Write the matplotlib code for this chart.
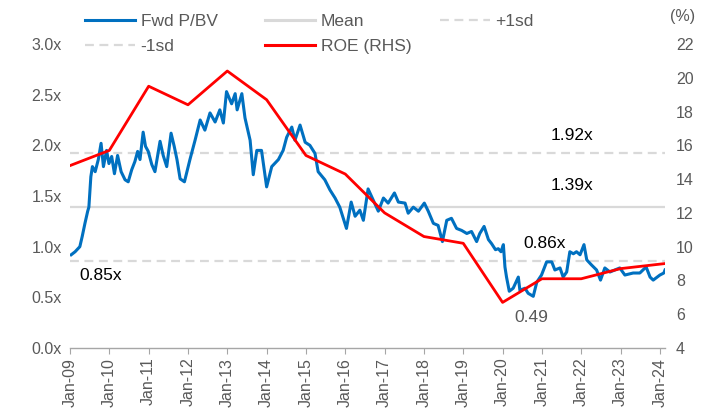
import matplotlib.pyplot as plt
from matplotlib.lines import Line2D
import numpy as np

plt.rcParams.update({
    'font.family': 'Liberation Sans',
    'font.size': 11.5,
    'axes.linewidth': 1.0,
})

### DATA

# Fwd P/BV (decimal year, multiple)
pb_year = [2009.03, 2009.13, 2009.25, 2009.31, 2009.38, 2009.45, 2009.48, 2009.53, 2009.57, 2009.64,
           2009.72, 2009.79, 2009.85, 2009.93, 2009.99, 2010.06, 2010.13, 2010.21, 2010.30, 2010.40,
           2010.48, 2010.57, 2010.65, 2010.72, 2010.78, 2010.86, 2010.92, 2010.99, 2011.08, 2011.16,
           2011.29, 2011.37, 2011.46, 2011.57, 2011.65, 2011.72, 2011.80, 2011.91, 2012.05, 2012.18,
           2012.31, 2012.43, 2012.56, 2012.69, 2012.81, 2012.90, 2012.98, 2013.11, 2013.20, 2013.25,
           2013.37, 2013.45, 2013.58, 2013.66, 2013.75, 2013.87, 2014.00, 2014.13, 2014.30, 2014.42,
           2014.51, 2014.64, 2014.72, 2014.85, 2014.98, 2015.10, 2015.23, 2015.31, 2015.48, 2015.61,
           2015.74, 2015.86, 2016.03, 2016.15, 2016.25, 2016.37, 2016.46, 2016.58, 2016.71, 2016.84,
           2016.97, 2017.09, 2017.25, 2017.35, 2017.52, 2017.60, 2017.73, 2017.86, 2018.01, 2018.11,
           2018.24, 2018.36, 2018.47, 2018.58, 2018.70, 2018.83, 2018.96, 2019.09, 2019.21, 2019.34,
           2019.42, 2019.53, 2019.64, 2019.72, 2019.82, 2019.89, 2019.96, 2020.02, 2020.06, 2020.10,
           2020.17, 2020.27, 2020.40, 2020.44, 2020.57, 2020.65, 2020.78, 2020.87, 2020.99, 2021.12,
           2021.25, 2021.33, 2021.46, 2021.54, 2021.63, 2021.71, 2021.80, 2021.88, 2021.97, 2022.07,
           2022.14, 2022.26, 2022.39, 2022.49, 2022.60, 2022.73, 2022.98, 2023.11, 2023.32, 2023.49,
           2023.65, 2023.75, 2023.83, 2024.00, 2024.10, 2024.13]
pb_val = [0.92, 0.95, 1.00, 1.10, 1.23, 1.35, 1.39, 1.69, 1.79, 1.74,
          1.86, 2.02, 1.79, 1.95, 1.82, 1.89, 1.72, 1.90, 1.74, 1.66,
          1.64, 1.76, 1.84, 1.94, 1.86, 2.13, 1.99, 1.94, 1.81, 1.74,
          2.04, 1.90, 1.79, 2.12, 1.99, 1.86, 1.67, 1.64, 1.86, 2.05,
          2.25, 2.15, 2.32, 2.23, 2.35, 2.22, 2.53, 2.41, 2.51, 2.35,
          2.51, 2.27, 2.05, 1.71, 1.95, 1.95, 1.59, 1.79, 1.86, 1.95,
          2.08, 2.18, 2.05, 2.20, 2.03, 2.00, 1.92, 1.74, 1.66, 1.56,
          1.48, 1.39, 1.18, 1.44, 1.30, 1.36, 1.26, 1.57, 1.46, 1.35,
          1.48, 1.43, 1.53, 1.44, 1.43, 1.33, 1.39, 1.35, 1.43, 1.35,
          1.23, 1.21, 1.05, 1.26, 1.28, 1.18, 1.16, 1.13, 1.15, 1.05,
          1.13, 1.20, 1.07, 1.03, 0.97, 0.98, 0.95, 1.02, 0.80, 0.70,
          0.56, 0.59, 0.70, 0.57, 0.59, 0.54, 0.51, 0.65, 0.72, 0.85,
          0.85, 0.77, 0.79, 0.70, 0.75, 0.95, 0.93, 0.95, 0.92, 1.02,
          0.87, 0.82, 0.77, 0.67, 0.79, 0.75, 0.79, 0.72, 0.74, 0.74,
          0.80, 0.70, 0.67, 0.72, 0.74, 0.77]

# ROE (%), right axis
roe_year = [2009, 2010, 2011, 2012, 2013, 2014, 2015, 2016, 2017, 2018,
            2019, 2020, 2021, 2022, 2023, 2024.13]
roe_val = [14.8, 15.7, 19.5, 18.4, 20.4, 18.7, 15.4, 14.3, 12.0, 10.6,
           10.2, 6.7, 8.1, 8.1, 8.7, 9.0]

mean_pb = 1.39
plus_sd = 1.92
minus_sd = 0.86

years = list(range(2009, 2025))
year_labels = ['Jan-%02d' % (y % 100) for y in years]

### PLOT

blue = '#0070C0'
red = '#FF0000'
grey = '#D9D9D9'
txt = '#595959'

fig = plt.figure(figsize=(7.1, 4.15), dpi=100)
ax = fig.add_axes([70/710, 1-348/415, 595/710, 304/415])
ax2 = ax.twinx()

x0, x1 = 2009.0, 2024.13
ax.plot([x0, x1], [mean_pb, mean_pb], color=grey, lw=1.6, zorder=1)
ax.plot([x0, x1], [plus_sd, plus_sd], color=grey, lw=1.6, ls=(0, (4, 2.5)), zorder=1)
ax.plot([x0, x1], [minus_sd, minus_sd], color=grey, lw=1.6, ls=(0, (4, 2.5)), zorder=1)
ax.plot(pb_year, pb_val, color=blue, lw=2.2, zorder=3)
ax2.plot(roe_year, roe_val, color=red, lw=2.0, zorder=4)

ax.set_xlim(x0, x1)
ax.set_ylim(0, 3)
ax.set_yticks(np.arange(0, 3.01, 0.5))
ax.set_yticklabels(['%.1fx' % v for v in np.arange(0, 3.01, 0.5)])
ax2.set_ylim(4, 22)
ax2.set_yticks(range(4, 23, 2))

ax.set_xticks(years)
ax.set_xticklabels(year_labels, rotation=90)

for a in (ax, ax2):
    for s in ('top', 'left', 'right'):
        a.spines[s].set_visible(False)
    a.spines['bottom'].set_color('#A6A6A6')
    a.tick_params(axis='y', length=0, colors=txt, labelsize=11.5)
ax2.spines['bottom'].set_visible(False)
ax.tick_params(axis='x', length=4, color='#A6A6A6', colors=txt, labelsize=11.5, pad=3)
ax.tick_params(axis='y', pad=6)
ax2.tick_params(axis='y', pad=8)

# labels on the lines
fs = 12.5
ax.text(2021.76, 2.10, '1.92x', ha='center', va='center', fontsize=fs)
ax.text(2021.76, 1.60, '1.39x', ha='center', va='center', fontsize=fs)
ax.text(2021.08, 1.03, '0.86x', ha='center', va='center', fontsize=fs)
ax.text(2009.24, 0.72, '0.85x', ha='left', va='center', fontsize=fs)
ax.text(2020.74, 0.30, '0.49', ha='center', va='center', fontsize=fs, color=txt)
fig.text(683/710, 1-17/415, '(%)', ha='center', va='center', fontsize=11.5, color=txt)

# legend, Excel-like layout
h_pb = Line2D([], [], color=blue, lw=2.2)
h_mean = Line2D([], [], color=grey, lw=2.2)
h_sd = Line2D([], [], color=grey, lw=1.6, ls=(0, (4, 2.5)))
h_roe = Line2D([], [], color=red, lw=2.2)
kw = dict(loc='upper left', frameon=False, handlelength=2.9, handletextpad=0.3,
          labelspacing=0.55, fontsize=12.5, borderpad=0, borderaxespad=0)
for lab in fig.legend([h_pb, h_sd], ['Fwd P/BV', '-1sd'],
                      bbox_to_anchor=(85/710, 1-14/415), **kw).get_texts():
    lab.set_color(txt)
for lab in fig.legend([h_mean, h_roe], ['Mean', 'ROE (RHS)'],
                      bbox_to_anchor=(265/710, 1-14/415), **kw).get_texts():
    lab.set_color(txt)
for lab in fig.legend([h_sd], ['+1sd'],
                      bbox_to_anchor=(440/710, 1-14/415), **kw).get_texts():
    lab.set_color(txt)

fig.savefig('out.png', dpi=100)
